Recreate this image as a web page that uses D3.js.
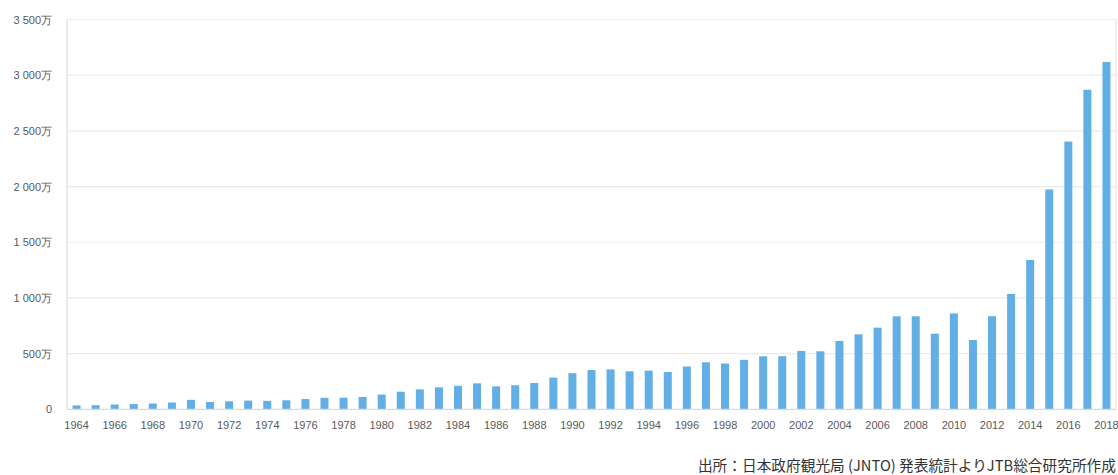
<!DOCTYPE html>
<html><head><meta charset="utf-8">
<script src="https://cdn.jsdelivr.net/npm/d3@7"></script>
<style>
body{margin:0;background:#fff;}
svg text{font-family:"Liberation Sans",Arial,sans-serif;}
</style></head>
<body>
<svg id="c" width="1118" height="475"></svg>
<script>
const years = d3.range(1964, 2019);
// 訪日外客数 (万人)
const visitors = [35,37,43,48,52,61,85,66,72,78,76,81,92,103,104,111,132,158,179,197,211,233,206,216,236,284,324,353,358,341,347,335,384,422,411,444,476,477,524,521,614,673,733,835,835,679,861,622,836,1036,1341,1974,2404,2869,3119];
const yTicks = [0,500,1000,1500,2000,2500,3000,3500];
const yTickLabels = ["0","500万","1 000万","1 500万","2 000万","2 500万","3 000万","3 500万"];
const xTickYears = years.filter(y => y % 2 === 0);
const sourceText = "出所：日本政府観光局 (JNTO) 発表統計よりJTB総合研究所作成";

const svg = d3.select("#c");
const m = {left:67, right:1116, top:19.5, bottom:409.3};

const x = d3.scaleBand().domain(years).range([m.left, m.right]).paddingInner(0.58).paddingOuter(0.29);
const y = d3.scaleLinear().domain([0,3500]).range([m.bottom, m.top]);

// grid
svg.append("g").selectAll("line").data(yTicks.slice(1)).join("line")
  .attr("x1", m.left).attr("x2", m.right)
  .attr("y1", d => y(d)).attr("y2", d => y(d))
  .attr("stroke", "#ebebeb").attr("stroke-width", 1.2);

// frame
svg.append("line").attr("x1", m.right).attr("x2", m.right).attr("y1", m.top).attr("y2", m.bottom)
  .attr("stroke", "#e6e6e6").attr("stroke-width", 1.2);
svg.append("line").attr("x1", m.left).attr("x2", m.left).attr("y1", m.top).attr("y2", m.bottom)
  .attr("stroke", "#dcdcdc").attr("stroke-width", 1.2);

// bars
svg.append("g").selectAll("rect").data(years).join("rect")
  .attr("x", d => x(d)).attr("width", x.bandwidth())
  .attr("y", (d,i) => y(visitors[i])).attr("height", (d,i) => y(0) - y(visitors[i]))
  .attr("fill", "#62afe6");

// x axis baseline
svg.append("line").attr("x1", m.left).attr("x2", m.right).attr("y1", m.bottom).attr("y2", m.bottom)
  .attr("stroke", "#d9d9d9").attr("stroke-width", 1.2);

// y labels
const yAxis = d3.axisLeft(y).tickValues(yTicks).tickSize(0).tickPadding(15)
  .tickFormat((d,i) => yTickLabels[i]);
const gy = svg.append("g").attr("transform", `translate(${m.left},0)`).call(yAxis);
gy.select(".domain").remove();
gy.selectAll("text").attr("fill", "#595959").style("font-size", "11px").style("font-family", "'Liberation Sans',Arial,sans-serif");

// x labels
const xAxis = d3.axisBottom(x).tickValues(xTickYears).tickSize(0).tickPadding(12);
const gx = svg.append("g").attr("transform", `translate(0,${m.bottom})`).call(xAxis);
gx.select(".domain").remove();
gx.selectAll("text").attr("fill", "#595959").style("font-size", "11px").style("font-family", "'Liberation Sans',Arial,sans-serif");

// source
svg.append("text").attr("x", 1116).attr("y", 471).attr("text-anchor", "end")
  .style("font-family", "'Noto Sans CJK JP',sans-serif").style("font-size", "14.7px")
  .attr("fill", "#333").text(sourceText);
</script>
</body></html>
